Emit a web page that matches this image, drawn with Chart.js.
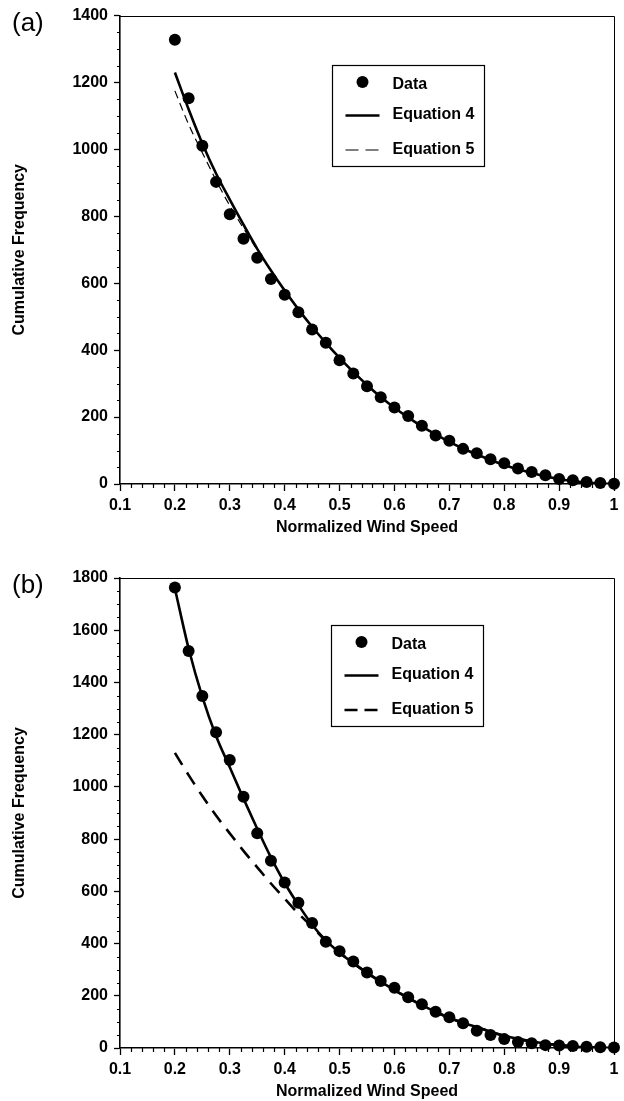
<!DOCTYPE html>
<html>
<head>
<meta charset="utf-8">
<script src="https://cdn.jsdelivr.net/npm/chart.js@4.4.1/dist/chart.umd.min.js"></script>
<style>
  html, body { margin: 0; padding: 0; background: #fff; }
  #wrap { position: relative; width: 624px; height: 1101px; }
  canvas { position: absolute; left: 0; }
  #chartA { top: 0; }
  #chartB { top: 550px; }
</style>
</head>
<body>
<div id="wrap">
  <canvas id="chartA" width="624" height="550"></canvas>
  <canvas id="chartB" width="624" height="551"></canvas>
</div>
<script>
const FONT = '"Liberation Sans", Arial, Helvetica, sans-serif';

// normalized wind speed for every data point / curve sample
const windSpeed = [0.2, 0.225, 0.25, 0.275, 0.3, 0.325, 0.35, 0.375, 0.4, 0.425, 0.45, 0.475,
  0.5, 0.525, 0.55, 0.575, 0.6, 0.625, 0.65, 0.675, 0.7, 0.725, 0.75, 0.775,
  0.8, 0.825, 0.85, 0.875, 0.9, 0.925, 0.95, 0.975, 1.0];

// panel (a)
const dataA = [1328, 1153, 1011, 903, 806, 733, 676, 613, 566, 513, 462, 422,
  370, 330, 292, 259, 229, 203, 174, 145, 129, 105, 92, 74,
  62, 46, 36, 26, 15, 11, 6, 3, 1];
const eq4A = [1230, 1120, 1018, 928, 850, 775, 703, 638, 578, 522, 470, 422,
  377, 335, 296, 260, 228, 199, 172, 148, 126, 106, 88, 72,
  57, 44, 33, 23, 15, 9, 4, 1, 0];
const eq5A = [1175, 1075, 990, 908, 832, 764, 700, 637, 578, 522, 470, 422,
  377, 335, 296, 260, 228, 199, 172, 148, 126, 106, 88, 72,
  57, 44, 33, 23, 15, 9, 4, 1, 0];

// panel (b)
const dataB = [1764, 1520, 1348, 1209, 1103, 962, 822, 717, 634, 556, 479, 407,
  371, 331, 289, 257, 231, 194, 168, 139, 118, 95, 66, 50,
  34, 23, 18, 11, 10, 8, 5, 3, 2];
const eq4B = [1760, 1530, 1345, 1195, 1075, 955, 840, 730, 632, 548, 472, 412,
  365, 325, 288, 254, 222, 192, 164, 138, 116, 96, 80, 62,
  47, 35, 25, 17, 11, 6, 3, 1, 0];
const eq5B = [1130, 1045, 965, 890, 822, 755, 692, 630, 572, 515, 465, 410,
  365, 325, 288, 254, 222, 192, 164, 138, 116, 96, 80, 62,
  47, 35, 25, 17, 11, 6, 3, 1, 0];

const xTicks = [0.1, 0.2, 0.3, 0.4, 0.5, 0.6, 0.7, 0.8, 0.9, 1];
const yTicksA = [0, 200, 400, 600, 800, 1000, 1200, 1400];
const yTicksB = [0, 200, 400, 600, 800, 1000, 1200, 1400, 1600, 1800];

function points(xs, ys) {
  return xs.map((x, i) => ({ x, y: ys[i] }));
}

// small ticks between the labelled ones
const minorTicks = {
  id: 'minorTicks',
  afterDraw(chart, args, o) {
    const { ctx, scales: { x, y } } = chart;
    ctx.save();
    ctx.strokeStyle = '#000';
    ctx.lineWidth = 1.2;
    ctx.beginPath();
    const nx = Math.round((x.max - x.min) / o.xStep);
    for (let i = 0; i <= nx; i++) {
      if (i % o.xEvery === 0) continue;
      const px = Math.round(x.getPixelForValue(x.min + i * o.xStep)) + 0.5;
      ctx.moveTo(px, y.bottom);
      ctx.lineTo(px, y.bottom + 4);
    }
    const ny = Math.round((y.max - y.min) / o.yStep);
    for (let i = 0; i <= ny; i++) {
      if (i % o.yEvery === 0) continue;
      const py = Math.round(y.getPixelForValue(y.min + i * o.yStep)) + 0.5;
      ctx.moveTo(x.left - 3, py);
      ctx.lineTo(x.left, py);
    }
    ctx.stroke();
    ctx.restore();
  }
};

// top and right border of the plot box, panel letter
const frame = {
  id: 'frame',
  afterDraw(chart, args, o) {
    const { ctx, chartArea: a } = chart;
    ctx.save();
    ctx.strokeStyle = '#000';
    ctx.lineWidth = 1;
    ctx.beginPath();
    ctx.moveTo(a.left, Math.round(a.top) + 0.5);
    ctx.lineTo(Math.round(a.right) + 0.5, Math.round(a.top) + 0.5);
    ctx.lineTo(Math.round(a.right) + 0.5, a.bottom);
    ctx.stroke();
    ctx.fillStyle = '#000';
    ctx.font = '26px ' + FONT;
    ctx.textBaseline = 'middle';
    ctx.textAlign = 'left';
    ctx.fillText(o.tag, 12, a.top + 8);
    ctx.restore();
  }
};

// boxed legend inside the plot
const boxLegend = {
  id: 'boxLegend',
  afterDraw(chart, args, o) {
    const { ctx, chartArea: a } = chart;
    const left = Math.round(a.left + o.dx) + 0.5;
    const top = Math.round(a.top + o.dy) + 0.5;
    ctx.save();
    ctx.fillStyle = '#fff';
    ctx.fillRect(left, top, 152, 101);
    ctx.strokeStyle = '#000';
    ctx.lineWidth = 1.2;
    ctx.strokeRect(left, top, 152, 101);

    const symY = [16.5, 50, 84.5];
    const txtY = [23, 53, 88];
    const cx = left + 30;
    chart.data.datasets.forEach((ds, i) => {
      const sy = top + symY[i];
      ctx.fillStyle = '#000';
      ctx.strokeStyle = '#000';
      if (!ds.showLine && ds.showLine !== undefined) {
        ctx.beginPath();
        ctx.arc(cx, sy, ds.pointRadius, 0, Math.PI * 2);
        ctx.fill();
      } else {
        ctx.lineWidth = ds.borderWidth;
        ctx.setLineDash(ds.borderDash ? [13, 7] : []);
        ctx.beginPath();
        ctx.moveTo(cx - 17, sy);
        ctx.lineTo(cx + 17, sy);
        ctx.stroke();
        ctx.setLineDash([]);
      }
      ctx.font = 'bold 16px ' + FONT;
      ctx.textBaseline = 'alphabetic';
      ctx.textAlign = 'left';
      ctx.fillText(ds.label, left + 60, top + txtY[i]);
    });
    ctx.restore();
  }
};

function makeChart(id, cfg) {
  const ctx = document.getElementById(id).getContext('2d');
  const tickFont = { family: FONT, size: 16, weight: 'bold' };
  return new Chart(ctx, {
    type: 'line',
    data: {
      datasets: [
        {
          label: 'Data',
          data: points(windSpeed, cfg.data),
          showLine: false,
          pointRadius: 6,
          pointBackgroundColor: '#000',
          pointBorderWidth: 0,
          clip: false
        },
        {
          label: 'Equation 4',
          data: points(windSpeed, cfg.eq4),
          borderColor: '#000',
          borderWidth: 2.6,
          pointRadius: 0,
          cubicInterpolationMode: 'monotone'
        },
        {
          label: 'Equation 5',
          data: points(windSpeed, cfg.eq5),
          borderColor: '#000',
          borderWidth: cfg.dashWidth,
          borderDash: cfg.dash,
          pointRadius: 0,
          cubicInterpolationMode: 'monotone'
        }
      ]
    },
    options: {
      responsive: false,
      animation: false,
      events: [],
      layout: { padding: { left: 0, right: 10, top: cfg.padTop, bottom: 0 } },
      plugins: {
        legend: { display: false },
        tooltip: { enabled: false },
        frame: { tag: cfg.tag },
        boxLegend: { dx: cfg.legendDx, dy: cfg.legendDy },
        minorTicks: { xStep: 0.02, xEvery: 5, yStep: 50, yEvery: 4 }
      },
      scales: {
        x: {
          type: 'linear',
          min: 0.1,
          max: 1,
          afterBuildTicks: s => { s.ticks = xTicks.map(v => ({ value: v })); },
          afterFit: s => { s.height = cfg.xHeight; },
          grid: { drawOnChartArea: false, tickLength: 7, tickWidth: 1.3, tickColor: '#000' },
          border: { color: '#000', width: 1.6 },
          ticks: {
            color: '#000', font: tickFont, padding: 5, maxRotation: 0, autoSkip: false,
            callback: v => String(Math.round(v * 10) / 10)
          },
          title: {
            display: true, text: 'Normalized Wind Speed', color: '#000',
            font: tickFont, padding: { top: 0, bottom: cfg.xTitlePad }
          }
        },
        y: {
          min: 0,
          max: cfg.yMax,
          afterBuildTicks: s => { s.ticks = cfg.yTicks.map(v => ({ value: v })); },
          afterFit: s => { s.width = 120; },
          grid: { drawOnChartArea: false, tickLength: 6, tickWidth: 1.3, tickColor: '#000' },
          border: { color: '#000', width: 1.6 },
          ticks: { color: '#000', font: tickFont, padding: 6, autoSkip: false, callback: v => String(v) },
          title: {
            display: true, text: 'Cumulative Frequency', color: '#000',
            font: tickFont, padding: { top: 10.4, bottom: 0 }
          }
        }
      }
    },
    plugins: [minorTicks, frame, boxLegend]
  });
}

makeChart('chartA', {
  tag: '(a)', data: dataA, eq4: eq4A, eq5: eq5A,
  dashWidth: 1.2, dash: [8, 5],
  yMax: 1400, yTicks: yTicksA,
  padTop: 13, xHeight: 66, xTitlePad: 12.4,
  legendDx: 212, legendDy: 49
});

makeChart('chartB', {
  tag: '(b)', data: dataB, eq4: eq4B, eq5: eq5B,
  dashWidth: 2.6, dash: [14, 9],
  yMax: 1800, yTicks: yTicksB,
  padTop: 28, xHeight: 53, xTitlePad: 0,
  legendDx: 211, legendDy: 47
});
</script>
</body>
</html>
